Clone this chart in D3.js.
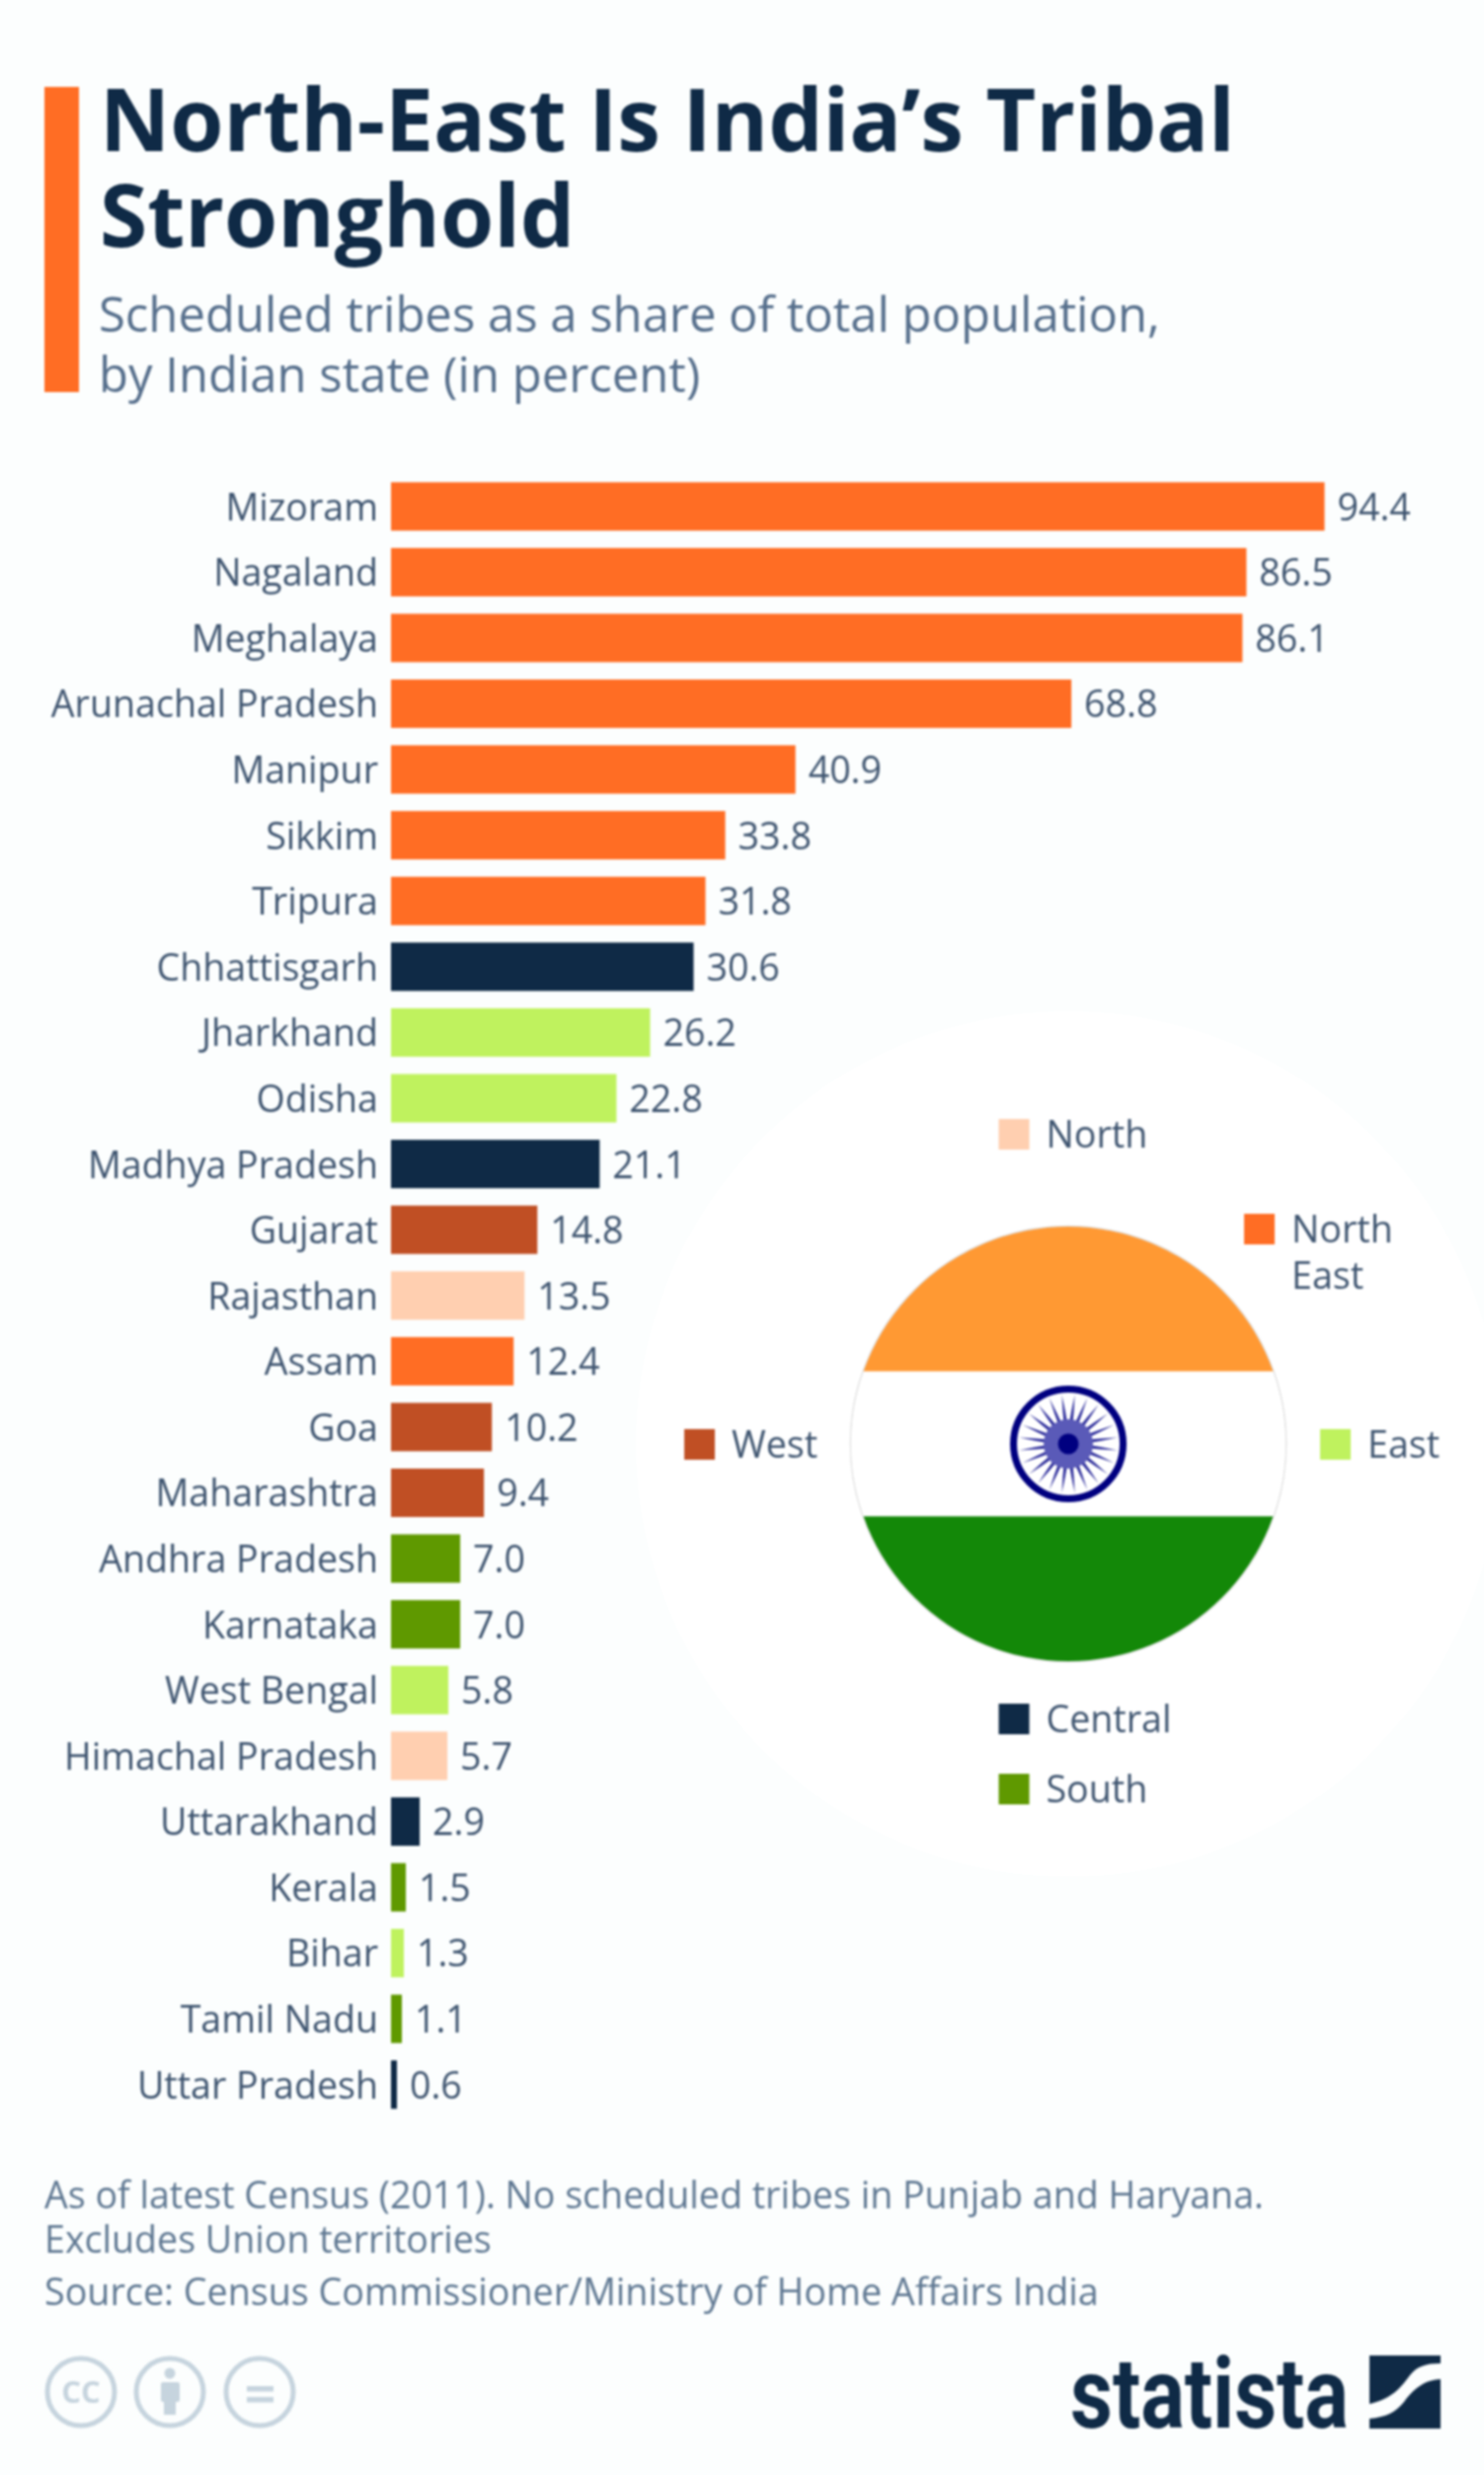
<!DOCTYPE html>
<html><head><meta charset="utf-8">
<script src="https://cdn.jsdelivr.net/npm/d3@7"></script>
<style>
html,body{margin:0;padding:0;background:#fcfefe}
svg{display:block;font-family:"Open Sans",sans-serif;filter:blur(0.8px)}
</style></head><body>
<svg id="c" width="1503" height="2506"></svg>
<script>
const states = ["Mizoram","Nagaland","Meghalaya","Arunachal Pradesh","Manipur","Sikkim","Tripura","Chhattisgarh","Jharkhand","Odisha","Madhya Pradesh","Gujarat","Rajasthan","Assam","Goa","Maharashtra","Andhra Pradesh","Karnataka","West Bengal","Himachal Pradesh","Uttarakhand","Kerala","Bihar","Tamil Nadu","Uttar Pradesh"];
const shares = [94.4,86.5,86.1,68.8,40.9,33.8,31.8,30.6,26.2,22.8,21.1,14.8,13.5,12.4,10.2,9.4,7.0,7.0,5.8,5.7,2.9,1.5,1.3,1.1,0.6];
const stateRegions = ["North East","North East","North East","North East","North East","North East","North East","Central","East","East","Central","West","North","North East","West","West","South","South","East","North","Central","South","East","South","Central"];
const regions = ["North","North East","East","West","Central","South"];
const regionColors = ["#ffcfb0","#ff6d24","#bff25e","#c04f24","#0f2a46","#5f9900"];
const titleLines = ["North-East Is India’s Tribal","Stronghold"];
const subtitleLines = ["Scheduled tribes as a share of total population,","by Indian state (in percent)"];
const noteLines = ["As of latest Census (2011). No scheduled tribes in Punjab and Haryana.","Excludes Union territories"];
const sourceLine = "Source: Census Commissioner/Ministry of Home Affairs India";

const svg = d3.select("#c");
const ink="#0f2a46", label="#3f5570", sub="#566f8c", foot="#5f7892";
const color = d3.scaleOrdinal(regions, regionColors);
const x = d3.scaleLinear([0,94.4],[396,1341.5]);
const y = d3.scaleBand(states,[479.5,2144]).paddingInner(0.264).paddingOuter(0.132);

// faint disc behind the flag
const cx=1082, cy=1462, R=220;
svg.append("circle").attr("cx",cx).attr("cy",cy).attr("r",438).attr("fill","#ffffff");

// header
svg.append("rect").attr("x",45).attr("y",88).attr("width",35).attr("height",309).attr("fill","#ff6d24");
svg.selectAll("text.t").data(titleLines).join("text").attr("class","t")
  .attr("x",101).attr("y",(d,i)=>153+i*97).attr("font-size",87.6).attr("font-weight",700).attr("fill",ink).text(d=>d);
svg.selectAll("text.s").data(subtitleLines).join("text").attr("class","s")
  .attr("x",100).attr("y",(d,i)=>335.5+i*61).attr("font-size",49).attr("fill",sub).text(d=>d);

// bars
svg.selectAll("rect.bar").data(states).join("rect").attr("class","bar")
  .attr("x",x(0)).attr("y",d=>y(d)).attr("height",y.bandwidth())
  .attr("width",(d,i)=>x(shares[i])-x(0)).attr("fill",(d,i)=>color(stateRegions[i]));
svg.selectAll("text.v").data(states).join("text").attr("class","v")
  .attr("x",(d,i)=>x(shares[i])+13).attr("y",d=>y(d)+y.bandwidth()/2).attr("dy",".37em")
  .attr("font-size",37.6).attr("fill",label).text((d,i)=>shares[i].toFixed(1));

const ax = svg.append("g").attr("transform",`translate(${x(0)},0)`).call(d3.axisLeft(y).tickSize(0).tickPadding(13));
ax.select(".domain").remove();
ax.selectAll("text").attr("dy",".37em").attr("font-size",37.6).attr("font-family",'"Open Sans",sans-serif').attr("fill",label);

// flag
const clip = svg.append("clipPath").attr("id","flag");
clip.append("circle").attr("cx",cx).attr("cy",cy).attr("r",R);
svg.append("circle").attr("cx",cx).attr("cy",cy).attr("r",R+.5).attr("fill","#fff").attr("stroke","#dddddd").attr("stroke-width",1.5);
const fl = svg.append("g").attr("clip-path","url(#flag)");
const bands = d3.scaleBand(["saffron","white","green"],[cy-R,cy+R]);
fl.selectAll("rect").data([["saffron","#ff9933"],["white","#ffffff"],["green","#138808"]]).join("rect")
  .attr("x",cx-R).attr("width",2*R).attr("y",d=>bands(d[0])).attr("height",bands.bandwidth()).attr("fill",d=>d[1]);
const w = svg.append("g").attr("transform",`translate(${cx},${cy})`);
w.append("circle").attr("r",55.5).attr("fill","#fff").attr("stroke","#000080").attr("stroke-width",7);
const spokeShape = d3.lineRadial().curve(d3.curveLinearClosed);
w.selectAll("path.sp").data(d3.range(24)).join("path").attr("class","sp")
  .attr("d",d=>{const a=(d+.5)*2*Math.PI/24;return spokeShape([[a-0.12,16],[a-0.035,34],[a,50],[a+0.035,34],[a+0.12,16]]);})
  .attr("fill","#2a2a9a");
w.append("circle").attr("r",25).attr("fill","#5a5ab8");
w.append("circle").attr("r",10.5).attr("fill","#000080");

// legend
const legendSpots = [[1011.5,1133],[1260,1229],[1337,1447],[693,1447],[1011.5,1725],[1011.5,1796]];
const lg = svg.selectAll("g.lg").data(regions).join("g").attr("class","lg")
  .attr("transform",(d,i)=>`translate(${legendSpots[i]})`);
lg.append("rect").attr("width",31).attr("height",31).attr("fill",d=>color(d));
lg.each(function(d){
  const parts = d.split(" ");
  d3.select(this).selectAll("text").data(parts).join("text")
    .attr("x",48).attr("y",(p,i)=>28.5+i*47).attr("font-size",37.6).attr("fill",label).text(p=>p);
});

// notes
svg.selectAll("text.n").data(noteLines).join("text").attr("class","n")
  .attr("x",45).attr("y",(d,i)=>2236+i*45).attr("font-size",37.6).attr("fill",foot).text(d=>d);
svg.append("text").attr("x",45).attr("y",2334).attr("font-size",37.7).attr("fill",foot).text(sourceLine);

// licence icons
const iconInk="#c6d4de";
const ic = svg.append("g").attr("fill","none").attr("stroke",iconInk).attr("stroke-width",5);
[82,172,263].forEach(c=>ic.append("circle").attr("cx",c).attr("cy",2422).attr("r",34));
svg.append("text").attr("x",82).attr("y",2433).attr("text-anchor","middle").attr("font-size",31).attr("font-weight",700).attr("fill",iconInk).text("CC");
const p = svg.append("g").attr("fill",iconInk);
p.append("circle").attr("cx",172).attr("cy",2403).attr("r",5.5);
p.append("rect").attr("x",163).attr("y",2412).attr("width",19).attr("height",20).attr("rx",2);
p.append("rect").attr("x",166).attr("y",2428).attr("width",12).attr("height",17);
p.append("rect").attr("x",250).attr("y",2416).attr("width",27).attr("height",5.5);
p.append("rect").attr("x",250).attr("y",2427).attr("width",27).attr("height",5.5);

// wordmark
svg.append("text").attr("x",1084).attr("y",2458).attr("font-family","Roboto,sans-serif").attr("font-weight",700)
  .attr("font-size",100).attr("textLength",282).attr("lengthAdjust","spacingAndGlyphs").attr("fill",ink).text("statista");
svg.append("path").attr("fill",ink).attr("d","M1387 2385H1459V2393C1444 2393 1435 2396 1428 2405C1419 2417 1410 2429 1387 2434ZM1459 2409V2459H1387V2449C1404 2447 1413 2443 1422 2432C1431 2420 1441 2410 1459 2409Z");
</script>
</body></html>
